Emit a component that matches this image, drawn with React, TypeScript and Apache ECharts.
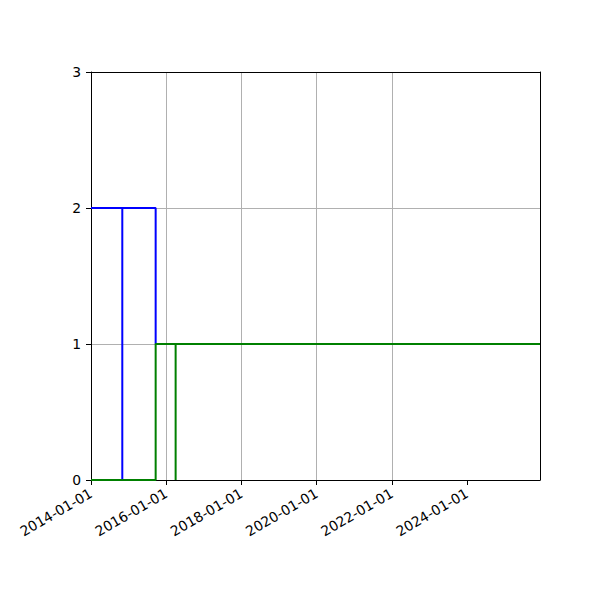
import { useEffect, useRef } from "react";
import * as echarts from "echarts";

// step lines, drawn as plain polylines (vertical drops share the same date)
const blueDates = ["2014-01-01", "2014-11-01", "2014-11-01", "2014-11-01", "2015-09-21", "2015-09-21", "2025-12-10"];
const blueValues = [2, 2, 0, 2, 2, 1, 1];
const greenDates = ["2014-01-01", "2015-09-21", "2015-09-21", "2016-04-02", "2016-04-02", "2016-04-02", "2025-12-10"];
const greenValues = [0, 0, 1, 1, 0, 1, 1];

const xTickLabels = ["2014-01-01", "2016-01-01", "2018-01-01", "2020-01-01", "2022-01-01", "2024-01-01"];
const xStart = "2014-01-01";
const xEnd = "2025-12-10";
const yTicks = [0, 1, 2, 3];

const font = "DejaVu Sans";

const toPairs = (dates: string[], values: number[]) =>
  dates.map((d, i) => [Date.parse(d), values[i]]);

const fmtDate = (v: number) => new Date(v).toISOString().slice(0, 10);

export default function App() {
  const containerRef = useRef<HTMLDivElement>(null);

  useEffect(() => {
    document.body.style.margin = "0";
    if (!containerRef.current) return;
    const chart = echarts.init(containerRef.current, null, { renderer: "svg" });
    const tickVals = xTickLabels.map(d => Date.parse(d));

    chart.setOption({
      animation: false,
      backgroundColor: "#ffffff",
      grid: { left: 91, right: 60, top: 72, bottom: 120, containLabel: false },
      xAxis: [
        {
          type: "value",
          min: Date.parse(xStart),
          max: Date.parse(xEnd),
          axisLine: { show: true, onZero: false, lineStyle: { color: "#000", width: 1 } },
          axisTick: { show: true, length: 5, customValues: tickVals, lineStyle: { color: "#000", width: 1 } },
          axisLabel: {
            customValues: tickVals,
            rotate: 30,
            margin: 12,
            color: "#000",
            fontFamily: font,
            fontSize: 13.9,
            formatter: (v: number) => fmtDate(v),
          },
          splitLine: { show: true, showMinLine: false, showMaxLine: false, lineStyle: { color: "#b0b0b0", width: 1 } },
        },
        {
          type: "value",
          position: "top",
          min: Date.parse(xStart),
          max: Date.parse(xEnd),
          axisLine: { show: true, onZero: false, lineStyle: { color: "#000", width: 1 } },
          axisTick: { show: false },
          axisLabel: { show: false },
          splitLine: { show: false },
        },
      ],
      yAxis: [
        {
          type: "value",
          min: yTicks[0],
          max: yTicks[yTicks.length - 1],
          interval: 1,
          axisLine: { show: true, onZero: false, lineStyle: { color: "#000", width: 1 } },
          axisTick: { show: true, length: 5, lineStyle: { color: "#000", width: 1 } },
          axisLabel: { color: "#000", fontFamily: font, fontSize: 13.9, margin: 10 },
          splitLine: { show: true, showMinLine: false, showMaxLine: false, lineStyle: { color: "#b0b0b0", width: 1 } },
        },
        {
          type: "value",
          position: "right",
          min: yTicks[0],
          max: yTicks[yTicks.length - 1],
          axisLine: { show: true, onZero: false, lineStyle: { color: "#000", width: 1 } },
          axisTick: { show: false },
          axisLabel: { show: false },
          splitLine: { show: false },
        },
      ],
      series: [
        {
          type: "line",
          data: toPairs(blueDates, blueValues),
          showSymbol: false,
          lineStyle: { color: "#0000ff", width: 2 },
          itemStyle: { color: "#0000ff" },
        },
        {
          type: "line",
          data: toPairs(greenDates, greenValues),
          showSymbol: false,
          lineStyle: { color: "#008000", width: 2 },
          itemStyle: { color: "#008000" },
        },
      ],
    });

    return () => chart.dispose();
  }, []);

  return <div ref={containerRef} style={{ width: 600, height: 600 }} />;
}
